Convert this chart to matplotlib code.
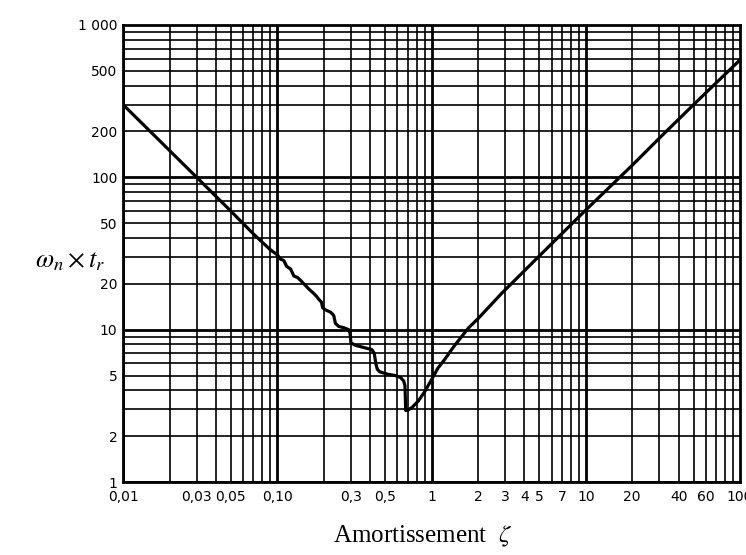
import matplotlib.pyplot as plt
import numpy as np

plt.rcParams['mathtext.fontset'] = 'stix'

# damping ratio and normalised response time
zeta = [0.01, 0.02, 0.03, 0.05, 0.07, 0.09, 0.10, 0.105, 0.11, 0.115, 0.122,
        0.128, 0.135, 0.142, 0.15, 0.16, 0.17, 0.18, 0.187, 0.193, 0.197,
        0.205, 0.222, 0.232, 0.238, 0.25, 0.27, 0.29, 0.296, 0.30, 0.32,
        0.37, 0.41, 0.425, 0.435, 0.445, 0.46, 0.52, 0.58, 0.63, 0.66,
        0.672, 0.676, 0.68, 0.70, 0.75, 0.82, 0.9, 1.0, 1.1, 1.22, 1.4,
        1.74, 2.0, 2.86, 5, 10, 20, 30.7, 50, 100]
wn_tr = [300, 150, 100, 60, 42.5, 33.5, 31.0, 29.0, 28.5, 26.0, 25.0,
         22.5, 22.0, 21.0, 19.8, 18.5, 17.5, 16.5, 15.7, 15.2, 13.9,
         13.5, 13.0, 12.4, 11.0, 10.5, 10.3, 10.0, 9.5, 8.2, 7.9,
         7.6, 7.4, 7.0, 6.0, 5.5, 5.3, 5.1, 5.0, 4.85, 4.6,
         4.3, 3.6, 2.95, 2.95, 3.1, 3.4, 3.9, 4.7, 5.6, 6.4, 7.8,
         10.3, 11.8, 17.4, 30.5, 61, 120, 185, 300, 590]

x_ticks = [0.01, 0.03, 0.05, 0.1, 0.3, 0.5, 1, 2, 3, 4, 5, 7, 10, 20, 40, 60, 100]
x_labels = ['0,01', '0,03', '0,05', '0,10', '0,3', '0,5', '1', '2', '3', '4',
            '5', '7', '10', '20', '40', '60', '100']
y_ticks = [1, 2, 5, 10, 20, 50, 100, 200, 500, 1000]
y_labels = ['1', '2', '5', '10', '20', '50', '100', '200', '500', '1 000']

fig = plt.figure(figsize=(7.46, 5.55), dpi=100)
ax = fig.add_axes([0.165, 0.1315, 0.827, 0.8235])

ax.set_xscale('log')
ax.set_yscale('log')
ax.set_xlim(0.01, 100)
ax.set_ylim(1, 1000)

# hand-drawn style log grid
for dec in [0.01, 0.1, 1, 10]:
    for k in range(1, 10):
        ax.axvline(dec * k, color='black', lw=2.0 if k == 1 else 1.2, zorder=1)
for dec in [1, 10, 100]:
    for k in range(1, 10):
        ax.axhline(dec * k, color='black', lw=2.0 if k == 1 else 1.2, zorder=1)

ax.plot(zeta, wn_tr, color='black', lw=2.3, zorder=3)

ax.set_xticks(x_ticks, x_labels)
ax.set_yticks(y_ticks, y_labels)
ax.minorticks_off()
ax.tick_params(length=0, labelsize=10)
ax.tick_params(axis='x', pad=6)
ax.tick_params(axis='y', pad=4)
for s in ax.spines.values():
    s.set_linewidth(2)

fig.text(0.094, 0.53, r'$\omega_n \times t_r$', fontsize=19, ha='center', va='center')
fig.text(0.566, 0.033, r'Amortissement  $\zeta$', fontsize=18,
         family='Liberation Serif', ha='center', va='center')

plt.savefig('out.png', dpi=100)
